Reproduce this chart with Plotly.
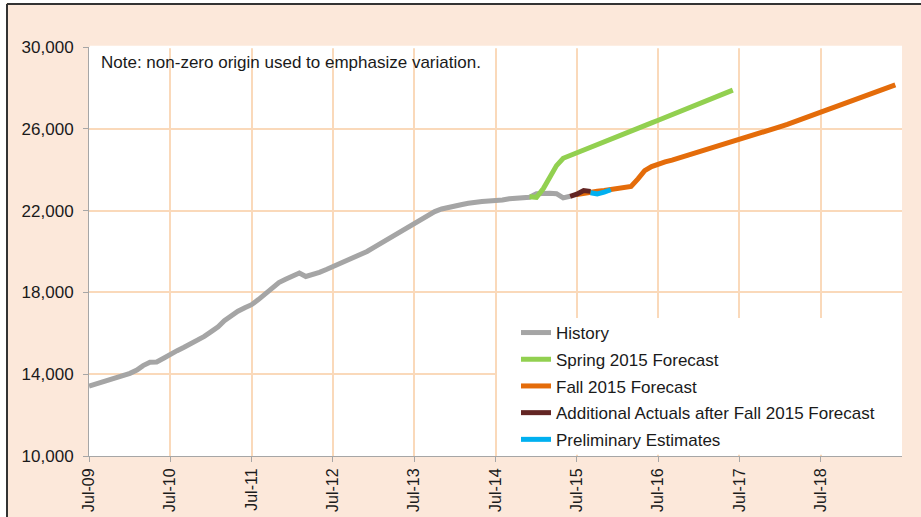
import pandas as pd
import plotly.graph_objects as go

# ---------------- data (monthly, starting Jul-2009) ----------------
start_month = "2009-07-01"

history_vals = [
    13420, 13520, 13620, 13720, 13820, 13920, 14040, 14200, 14420, 14580, 14600, 14780,
    14990, 15150, 15320, 15480, 15650, 15850, 16080, 16320, 16620, 16880, 17080, 17250,
    17400, 17650, 17950, 18200, 18480, 18640, 18820, 18950, 18780, 18850, 18980, 19120,
    19260, 19420, 19560, 19690, 19830, 20000, 20200, 20400, 20560, 20760, 20950, 21120,
    21330, 21550, 21780, 21950, 22080, 22170, 22230, 22300, 22360, 22420, 22450, 22470,
    22470, 22520, 22580, 22620, 22600, 22650, 22820, 22860, 22850, 22830, 22620, 22700,
]  # Jul-09 .. Jun-15

spring_vals = [
    22680, 22650, 23080, 23650, 24200, 24560, 24690, 24820, 24960, 25090, 25220, 25360,
    25490, 25620, 25760, 25890, 26020, 26160, 26290, 26420, 26560, 26690, 26820, 26960,
    27090, 27220, 27360, 27490, 27620, 27760, 27890,
]  # Dec-14 .. Jun-17

fall_vals = [
    22780, 22850, 22920, 22950, 22980, 23020, 23070, 23120, 23180, 23550, 23950, 24150,
    24290, 24380, 24470, 24570, 24660, 24750, 24840, 24930, 25030, 25130, 25230, 25340,
    25450, 25560, 25670, 25780, 25890, 26000, 26110, 26220, 26340, 26460, 26580, 26700,
    26820, 26940, 27060, 27180, 27300, 27420, 27540, 27660, 27780, 27900, 28020, 28150,
]  # Jul-15 .. Jun-19

additional_vals = [22700, 22800, 22980, 22940]   # Jun-15 .. Sep-15
prelim_vals = [22870, 22810, 22900, 23020]       # Sep-15 .. Dec-15

tick_labels = ["Jul-09", "Jul-10", "Jul-11", "Jul-12", "Jul-13",
               "Jul-14", "Jul-15", "Jul-16", "Jul-17", "Jul-18"]
y_ticks = [10000, 14000, 18000, 22000, 26000, 30000]

series_names = ["History", "Spring 2015 Forecast", "Fall 2015 Forecast",
                "Additional Actuals after Fall 2015 Forecast", "Preliminary Estimates"]
series_colors = ["#A5A5A5", "#92D050", "#E46C0A", "#632523", "#00B0F0"]

# ---------------- x positions ----------------
months = pd.date_range(start_month, periods=120, freq="MS")
hist_x = months[0:72]
spring_x = months[65:96]
fall_x = months[72:120]
add_x = months[71:75]
prelim_x = months[74:78]
tick_dates = pd.date_range(start_month, periods=len(tick_labels), freq="12MS")

PEACH = "#FCE8DA"
GRID = "#FAD9BA"
AXIS = "#A6A6A6"
FONT = "Liberation Sans, Arial, sans-serif"

fig = go.Figure()
for xs, ys, name, col in zip(
    [hist_x, spring_x, fall_x, add_x, prelim_x],
    [history_vals, spring_vals, fall_vals, additional_vals, prelim_vals],
    series_names, series_colors,
):
    fig.add_trace(go.Scatter(
        x=xs, y=ys, mode="lines", name=name, legendgroup=name,
        line=dict(color=col, width=5),
    ))

PX = lambda px: (px - 89) / 813          # pixel -> paper x
PY = lambda py: (456 - py) / 409         # pixel -> paper y

fig.update_layout(
    width=921, height=517,
    margin=dict(l=89, r=19, t=47, b=61, autoexpand=False),
    paper_bgcolor=PEACH, plot_bgcolor="white",
    font=dict(family=FONT, color="#1A1A1A", size=17),
    showlegend=True,
    legend=dict(
        x=PX(516), y=PY(315), xanchor="left", yanchor="top",
        bgcolor="rgba(255,255,255,0)", borderwidth=0, tracegroupgap=1.6,
        font=dict(family=FONT, size=17, color="#1A1A1A"),
    ),
    xaxis=dict(
        type="date", range=["2009-07-01", "2019-07-01"], automargin=False,
        tickmode="array", tickvals=tick_dates, ticktext=tick_labels,
        tickangle=-90, tickfont=dict(size=16),
        showgrid=True, gridcolor=GRID, gridwidth=1.5,
        showline=True, linecolor=AXIS, linewidth=1,
        ticks="outside", ticklen=5, tickcolor=AXIS,
        zeroline=False,
    ),
    yaxis=dict(
        range=[10000, 30000], tickmode="array", tickvals=y_ticks, automargin=False,
        tickformat=",", tickfont=dict(size=17),
        showgrid=True, gridcolor=GRID, gridwidth=1.5,
        showline=True, linecolor=AXIS, linewidth=1,
        ticks="outside", ticklen=5, tickcolor=AXIS,
        ticklabelstandoff=6, zeroline=False,
    ),
    annotations=[dict(
        text="Note: non-zero origin used to emphasize variation.",
        xref="paper", yref="paper", x=PX(99), y=PY(63),
        xanchor="left", yanchor="middle", showarrow=False,
        font=dict(family=FONT, size=17, color="#1A1A1A"),
    )],
    shapes=[
        # hide the gridline on the top edge of the plot
        dict(type="line", xref="paper", yref="paper",
             x0=PX(90), x1=1.0, y0=1.0, y1=1.0,
             line=dict(color="white", width=2.5), layer="above"),
        # white box behind legend (covers gridlines)
        dict(type="rect", xref="paper", yref="paper",
             x0=PX(497), x1=1.0, y0=0.003, y1=PY(318),
             fillcolor="white", line=dict(width=0), layer="above"),
        # white strips outside the outer frame
        dict(type="rect", xref="paper", yref="paper",
             x0=PX(0), x1=PX(6), y0=PY(517), y1=PY(0),
             fillcolor="white", line=dict(width=0), layer="above"),
        dict(type="rect", xref="paper", yref="paper",
             x0=PX(0), x1=PX(921), y0=PY(3), y1=PY(0),
             fillcolor="white", line=dict(width=0), layer="above"),
        # outer frame lines (left and top)
        dict(type="line", xref="paper", yref="paper",
             x0=PX(7), x1=PX(7), y0=PY(517), y1=PY(4),
             line=dict(color="#333333", width=2), layer="above"),
        dict(type="line", xref="paper", yref="paper",
             x0=PX(7), x1=PX(921), y0=PY(4), y1=PY(4),
             line=dict(color="#333333", width=2), layer="above"),
    ],
)

fig.write_html(
    "out.html",
    config={"displayModeBar": False},
    post_script="document.body.style.margin='0';document.body.style.overflow='hidden';",
)
